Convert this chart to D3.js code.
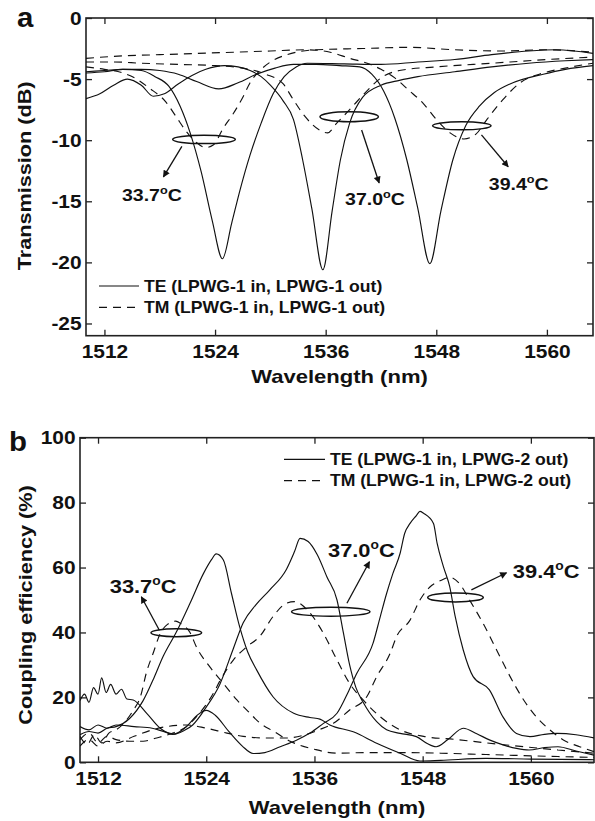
<!DOCTYPE html>
<html>
<head>
<meta charset="utf-8">
<script src="https://cdn.jsdelivr.net/npm/d3@7"></script>
<style>
  body { margin: 0; background: #fff; }
  svg text { font-family: "Liberation Sans", Arial, Helvetica, sans-serif; font-weight: bold; fill: #111; }
</style>
</head>
<body>
<svg id="fig" width="595" height="821"></svg>
<script>
// ---------- data (wavelength nm, value) ----------
var xTicks = [1512, 1524, 1536, 1548, 1560];
var aYTicks = [0, -5, -10, -15, -20, -25];
var bYTicks = [0, 20, 40, 60, 80, 100];
var temps = ["33.7", "37.0", "39.4"];

// panel a: transmission (dB), LPWG-1 in, LPWG-1 out
var aTE337 = [[1510,-4.4],[1512,-4.3],[1514,-4.2],[1516,-4.3],[1517.5,-4.8],[1519,-5.6],[1520.2,-7.2],[1521.3,-9.4],[1522.5,-12.6],[1523.7,-16.6],[1524.8,-19.7],[1525.8,-16.8],[1526.7,-14.1],[1527.8,-11.2],[1529,-8.6],[1530.3,-6.2],[1531.5,-4.8],[1532.8,-4.0],[1534,-3.7],[1538,-3.75],[1542,-3.8],[1546,-3.6],[1550,-3.4],[1554,-3.0],[1558,-2.7],[1561,-2.6],[1565,-2.9]];
var aTE370 = [[1510,-6.6],[1511.5,-6.2],[1513,-5.5],[1514.5,-5.0],[1516,-5.5],[1517.3,-6.4],[1518.5,-6.2],[1520,-5.4],[1521.5,-4.7],[1523,-4.2],[1525,-3.9],[1526.5,-4.0],[1527.8,-4.3],[1529,-4.8],[1530,-5.5],[1531.4,-6.8],[1532.5,-8.3],[1533.5,-11.6],[1534.5,-15.6],[1535.7,-20.6],[1536.7,-15.8],[1537.6,-11.6],[1538.6,-8.6],[1540,-6.5],[1542,-5.5],[1544,-5.1],[1546,-4.8],[1550,-4.4],[1554,-4.0],[1558,-3.7],[1562,-3.5],[1565,-3.4]];
var aTE394 = [[1510,-4.5],[1512,-4.4],[1514,-4.2],[1516,-4.2],[1518,-4.3],[1520,-4.6],[1522,-5.2],[1524.4,-5.8],[1526.5,-5.3],[1528.5,-4.6],[1530.5,-4.1],[1532.5,-3.8],[1535,-3.8],[1537.5,-3.9],[1539.7,-4.0],[1541,-4.6],[1542.3,-6.0],[1543.5,-8.2],[1544.8,-11.6],[1546,-15.6],[1547.3,-20.1],[1548.5,-15.8],[1549.8,-11.6],[1551.2,-8.8],[1552.7,-7.2],[1554.3,-6.1],[1556,-5.4],[1559.6,-4.6],[1562,-4.2],[1565,-3.9]];
var aTM337 = [[1510,-4.0],[1512,-4.2],[1514,-4.5],[1515.5,-5.0],[1516.8,-5.7],[1518.7,-6.9],[1519.8,-8.1],[1520.8,-9.2],[1522,-10.2],[1523,-10.6],[1523.8,-10.4],[1524.9,-9.0],[1526,-7.8],[1527,-6.5],[1527.8,-5.3],[1529,-4.2],[1530,-3.6],[1531.8,-3.0],[1535,-2.6],[1540,-2.5],[1545,-2.4],[1550,-2.6],[1555,-2.7],[1560,-2.6],[1565,-2.8]];
var aTM370 = [[1510,-3.6],[1513,-3.6],[1516,-3.7],[1520,-3.8],[1524,-3.9],[1527,-4.1],[1529.5,-4.6],[1531.4,-5.4],[1532.5,-6.7],[1533.8,-8.1],[1535.4,-9.2],[1536.2,-9.4],[1537.2,-8.6],[1538.6,-7.5],[1540.3,-6.1],[1542.2,-4.8],[1544,-4.3],[1548,-4.0],[1552,-3.8],[1556,-3.6],[1560,-3.4],[1565,-3.2]];
var aTM394 = [[1510,-3.3],[1514,-3.1],[1518,-3.0],[1522,-2.9],[1526,-2.8],[1530,-2.7],[1534,-2.6],[1536.5,-2.8],[1538.6,-3.3],[1540.5,-3.7],[1542,-4.2],[1543.5,-4.9],[1545,-5.9],[1546.6,-7.0],[1548,-8.3],[1549.5,-9.4],[1551,-9.9],[1552.3,-9.5],[1553.5,-8.3],[1555.2,-6.7],[1557.1,-5.3],[1559.6,-4.5],[1562,-4.1],[1565,-3.7]];

// panel b: coupling efficiency (%), LPWG-1 in, LPWG-2 out
var bTE337 = [[1510,8.5],[1511,9.5],[1512,9],[1513,10.5],[1514,11],[1515.5,13.5],[1517,19],[1518.2,26],[1519.2,32.5],[1520.7,40.2],[1522.2,49],[1523.7,58.2],[1524.6,62.5],[1525.1,64.2],[1525.9,62.3],[1526.8,52],[1527.7,41.8],[1528.6,34],[1529.6,28.4],[1531.4,20.2],[1533.7,15.1],[1535.5,13.8],[1536.6,13.3],[1537.7,11.5],[1540.3,9.4],[1542.9,5.9],[1545.5,2.8],[1547.7,0.4],[1550,0.6],[1555,1.2],[1560,1.0],[1567,0.8]];
var bTE370 = [[1510,11],[1511,10],[1512,11.5],[1513,10.5],[1514,11.5],[1516,11],[1518,10.5],[1519.5,9.3],[1520.5,8.7],[1521.5,9.7],[1522.5,11.5],[1524,17],[1525.5,24],[1527,35],[1528.1,43],[1529.5,48.5],[1531,53],[1532.9,59.5],[1533.8,65],[1534.4,69],[1535.3,68],[1536.3,64],[1537.4,57],[1538.5,50],[1539.2,40],[1539.9,30],[1540.6,23],[1541.4,18.5],[1542.9,12.5],[1544,10],[1545.5,8.9],[1547.3,7.9],[1548.5,5.8],[1549.5,4.8],[1550.8,7],[1552.5,10.5],[1554,8.8],[1555.4,6.9],[1557,5.3],[1558.4,4.3],[1559.8,3.8],[1561.5,4.5],[1563,4.8],[1565,3.5],[1567,2.2]];
var bTE394 = [[1510,19],[1510.5,21],[1511,18.5],[1511.5,23],[1512,21],[1512.4,26],[1512.9,21.5],[1513.4,24],[1514,21],[1514.6,22.5],[1515.2,19.5],[1515.9,19.2],[1517.4,15.1],[1518.9,10.5],[1520.3,8.6],[1521.8,11],[1523,14.5],[1524,16],[1525,14.5],[1526.5,9.5],[1528,5],[1529.2,2.7],[1530.5,3],[1532.2,4.8],[1534,6.8],[1535.5,9],[1537,12],[1538.5,15.1],[1539.8,22],[1540.7,27.4],[1542.5,36.7],[1543.3,44.9],[1544,52],[1544.7,58.2],[1545.5,64.4],[1546,70.5],[1546.6,73.6],[1547.3,76],[1547.7,77.3],[1548.1,76.7],[1549.2,73.6],[1549.6,67.5],[1550.3,60.3],[1551,54.1],[1551.6,45],[1552.5,34.6],[1553.6,26.4],[1555.4,22.3],[1556.9,14],[1558.4,8.9],[1559.9,7.9],[1561.5,8.6],[1562.9,8.9],[1565,8.5],[1567,7.5]];
var bTM337 = [[1510,8],[1510.8,5.5],[1511.6,8.5],[1512.4,6],[1513.2,9],[1514,10],[1515,12.5],[1515.9,16],[1516.7,20.2],[1517.4,28],[1518.1,33.5],[1518.9,39.7],[1519.7,42.5],[1520.6,43.5],[1521.3,42.5],[1522.2,40],[1522.9,35.6],[1524.4,29.4],[1525.9,24.3],[1527.4,19.2],[1528.5,16.1],[1530,12],[1531.5,9.5],[1533.3,6.5],[1536,4],[1538.5,2.8],[1542,3],[1546,3],[1550,2.8],[1555,2.4],[1560,2],[1567,1.5]];
var bTM370 = [[1510,7],[1511,9],[1512,6],[1513,8],[1514,7],[1515.5,6.5],[1517,6.5],[1518.5,7.5],[1520.3,9],[1521.8,11],[1522.9,14],[1524.8,21.3],[1525.5,25],[1527,31.5],[1528.5,35.6],[1530,39],[1531.4,44.9],[1532.9,49],[1533.8,49.5],[1535.5,46],[1537,39.7],[1538.5,31.5],[1539.9,24.3],[1541.4,19.2],[1543.3,14],[1545.5,10],[1548.1,8],[1551.8,7],[1555,6],[1559.2,4.8],[1563,3.8],[1567,2.8]];
var bTM394 = [[1510,5],[1511,7],[1512,5],[1513,6.5],[1514,6],[1516,8],[1518,10],[1519.6,11],[1521.8,11.5],[1524,10.5],[1526.3,9],[1528.1,8],[1530.7,7.5],[1533,7.5],[1535,8.5],[1536.5,10],[1538.1,12],[1539.9,16.1],[1541.8,20.2],[1542.9,26.4],[1544.4,33.6],[1545.1,38.7],[1546.6,43.8],[1547.7,50],[1548.8,54],[1550,56],[1551,57],[1552.1,55],[1553.2,50],[1554.7,42.8],[1556.2,34.6],[1557.7,26.4],[1559.2,19.2],[1560.6,14],[1562.1,10],[1563.6,6.9],[1565.4,4.8],[1567,3.3]];

// annotations in data units: ellipse centre/radii, arrow from -> to, label origin
var aNotes = [
  { t: temps[0], cx: 1522.8, cy: -9.94, rx: 3.4, ry: 0.34, a: [1520.4, -10.5, 1518.4, -13.0], l: [1513.9, -14.98] },
  { t: temps[1], cx: 1538.55, cy: -8.08, rx: 3.17, ry: 0.41, a: [1539.9, -9.17, 1541.8, -13.5], l: [1538.1, -15.3] },
  { t: temps[2], cx: 1550.77, cy: -8.82, rx: 3.17, ry: 0.33, a: [1552.9, -9.57, 1555.8, -12.17], l: [1553.7, -14.08] }
];
var bNotes = [
  { t: temps[0], cx: 1520.68, cy: 39.9, rx: 2.81, ry: 1.23, a: [1518.8, 40.7, 1516.8, 51.0], l: [1513.3, 52.2] },
  { t: temps[1], cx: 1537.81, cy: 46.4, rx: 4.35, ry: 1.39, a: [1539.6, 49.0, 1542.1, 61.8], l: [1537.5, 63.3] },
  { t: temps[2], cx: 1551.64, cy: 50.8, rx: 3.08, ry: 1.39, a: [1553.4, 53.1, 1557.3, 58.4], l: [1558.0, 56.8] }
];

// ---------- drawing ----------
var svg = d3.select("#fig");
var SX = 1.12;   // scanned lettering is a little wide
var DASH = "8,6";

var defs = svg.append("defs");
defs.append("marker").attr("id", "arr").attr("viewBox", "0 0 10 10").attr("refX", 9).attr("refY", 5)
  .attr("markerWidth", 8).attr("markerHeight", 7).attr("markerUnits", "userSpaceOnUse").attr("orient", "auto")
  .append("path").attr("d", "M0,0 L10,5 L0,10 z").attr("fill", "#111");

function txt(g, x, y, s, size, anchor, rot, sx) {
  return g.append("text")
    .attr("transform", "translate(" + x + "," + y + ")" + (rot ? " rotate(" + rot + ")" : "") + " scale(" + (sx || SX) + ",1)")
    .attr("text-anchor", anchor || "start").attr("font-size", size).text(s);
}
function tempLabel(g, x, y, t, fs) {
  var el = g.append("text").attr("transform", "translate(" + x + "," + y + ") scale(1.15,1)").attr("font-size", fs);
  el.append("tspan").text(t);
  el.append("tspan").attr("font-size", Math.round(fs * 0.64)).attr("dy", -fs * 0.42).text("o");
  el.append("tspan").attr("dy", fs * 0.42).text("C");
}

function panel(o) {
  var x = d3.scaleLinear().domain(o.xDom).range([o.left, o.right]);
  var y = d3.scaleLinear().domain(o.yDom).range([o.bottom, o.top]);
  var g = svg.append("g");
  var fmt = function (d) { return String(d); };

  function style(sel) {
    sel.select(".domain").remove();
    sel.attr("font-size", null).attr("font-family", null);
    sel.selectAll(".tick line").attr("stroke", "#222").attr("stroke-width", 1.3);
    sel.selectAll("text").attr("font-size", 19);
  }
  g.append("g").attr("transform", "translate(0," + o.bottom + ")")
    .call(d3.axisBottom(x).tickValues(xTicks).tickSize(-6).tickPadding(9).tickFormat(fmt))
    .call(style).selectAll("text").attr("transform", "scale(1.1,1)");
  g.append("g").attr("transform", "translate(0," + o.top + ")")
    .call(d3.axisTop(x).tickValues(xTicks).tickSize(-6).tickFormat("")).call(style);
  g.append("g").attr("transform", "translate(" + o.left + ",0)")
    .call(d3.axisLeft(y).tickValues(o.yTicks).tickSize(-6).tickPadding(4).tickFormat(fmt))
    .call(style).selectAll("text").attr("transform", "scale(1.1,1)");
  g.append("g").attr("transform", "translate(" + o.right + ",0)")
    .call(d3.axisRight(y).tickValues(o.yTicks).tickSize(-6).tickFormat("")).call(style);

  g.append("rect").attr("x", o.left).attr("y", o.top).attr("width", o.right - o.left).attr("height", o.bottom - o.top)
    .attr("fill", "none").attr("stroke", "#222").attr("stroke-width", 1.6);

  var cid = "clip-" + o.id;
  defs.append("clipPath").attr("id", cid).append("rect")
    .attr("x", o.left).attr("y", o.top).attr("width", o.right - o.left).attr("height", o.bottom - o.top);

  var line = d3.line().x(function (d) { return x(d[0]); }).y(function (d) { return y(d[1]); }).curve(d3.curveMonotoneX);
  var lg = g.append("g").attr("clip-path", "url(#" + cid + ")");
  o.series.forEach(function (s) {
    lg.append("path").datum(s.data).attr("d", line).attr("fill", "none").attr("stroke", "#111")
      .attr("stroke-width", 1.15).attr("stroke-dasharray", s.dash ? DASH : null);
  });

  // ellipses, arrows, temperature labels
  o.notes.forEach(function (n) {
    g.append("ellipse").attr("cx", x(n.cx)).attr("cy", y(n.cy))
      .attr("rx", x(n.cx + n.rx) - x(n.cx)).attr("ry", Math.abs(y(n.cy + n.ry) - y(n.cy)))
      .attr("fill", "none").attr("stroke", "#111").attr("stroke-width", 1.5);
    g.append("line").attr("x1", x(n.a[0])).attr("y1", y(n.a[1])).attr("x2", x(n.a[2])).attr("y2", y(n.a[3]))
      .attr("stroke", "#111").attr("stroke-width", 1.3).attr("marker-end", "url(#arr)");
    tempLabel(g, x(n.l[0]), y(n.l[1]), n.t, o.noteSize);
  });

  // legend
  o.legend.forEach(function (L, i) {
    var ly = o.legY + i * 21.4;
    g.append("line").attr("x1", o.legX).attr("x2", o.legX + o.legW).attr("y1", ly).attr("y2", ly)
      .attr("stroke", "#111").attr("stroke-width", 1.2).attr("stroke-dasharray", L.dash ? DASH : null);
    txt(g, o.legX + o.legW + 5, ly + 5.6, L.t, 16, "start", 0, 1.1);
  });

  // axis titles and panel letter
  txt(g, (o.left + o.right) / 2, o.xTitleY, "Wavelength (nm)", 19, "middle", 0, 1.16);
  txt(g, o.yTitleX, (o.top + o.bottom) / 2 + o.yTitleShift, o.yTitle, 19, "middle", -90, 1.14);
  txt(g, o.letterX, o.letterY, o.letter, 28, "start", 0, 1.05);
}

panel({
  id: "a", left: 86, right: 593, top: 18, bottom: 335.7, xDom: [1510, 1565], yDom: [-26, 0], yTicks: aYTicks,
  series: [
    { data: aTE337 }, { data: aTE370 }, { data: aTE394 },
    { data: aTM337, dash: true }, { data: aTM370, dash: true }, { data: aTM394, dash: true }
  ],
  notes: aNotes, noteSize: 17,
  legend: [{ t: "TE (LPWG-1 in, LPWG-1 out)" }, { t: "TM (LPWG-1 in, LPWG-1 out)", dash: true }],
  legX: 99, legW: 40, legY: 286,
  xTitleY: 383, yTitleX: 31, yTitleShift: -1, yTitle: "Transmission (dB)",
  letter: "a", letterX: 17, letterY: 27
});

panel({
  id: "b", left: 80, right: 594, top: 437.7, bottom: 762.3, xDom: [1510, 1567], yDom: [0, 100], yTicks: bYTicks,
  series: [
    { data: bTE337 }, { data: bTE370 }, { data: bTE394 },
    { data: bTM337, dash: true }, { data: bTM370, dash: true }, { data: bTM394, dash: true }
  ],
  notes: bNotes, noteSize: 19,
  legend: [{ t: "TE (LPWG-1 in, LPWG-2 out)" }, { t: "TM (LPWG-1 in, LPWG-2 out)", dash: true }],
  legX: 284, legW: 41, legY: 459.3,
  xTitleY: 814, yTitleX: 32, yTitleShift: 5, yTitle: "Coupling efficiency (%)",
  letter: "b", letterX: 9, letterY: 451
});
</script>
</body>
</html>
